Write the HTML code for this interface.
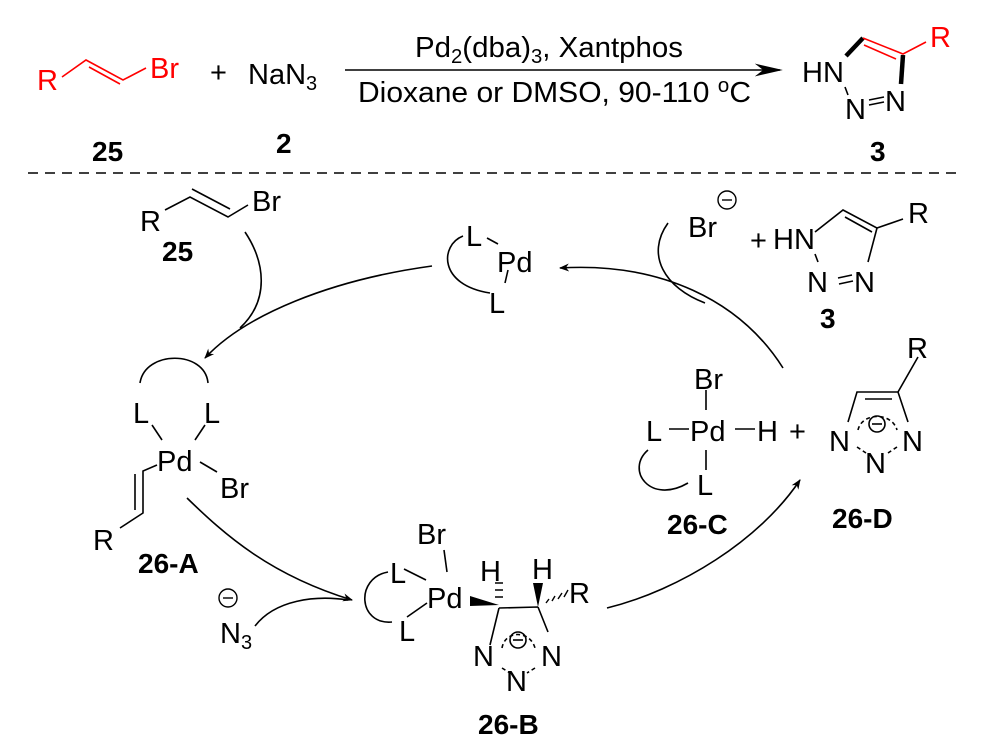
<!DOCTYPE html>
<html><head><style>
html,body{margin:0;padding:0;background:#fff}
svg{display:block}
text{font-family:"Liberation Sans",Arial,sans-serif;font-size:29px;fill:#000}
.b{font-weight:bold;font-size:28px}
.r{fill:#f00}
</style></head><body>
<svg width="991" height="745" viewBox="0 0 991 745" xmlns="http://www.w3.org/2000/svg">
<defs>
<marker id="ah" viewBox="0 0 10 10" refX="9" refY="5" markerWidth="10" markerHeight="10" orient="auto" markerUnits="userSpaceOnUse"><path d="M0,1 L10,5 L0,9 L3,5z" fill="#000"/></marker>
<marker id="ah2" viewBox="0 0 10 10" refX="9" refY="5" markerWidth="28" markerHeight="16" orient="auto" markerUnits="userSpaceOnUse" preserveAspectRatio="none"><path d="M0,1 L10,5 L0,9 L3,5z" fill="#000"/></marker>
</defs>
<g stroke="#000" stroke-width="1.6" fill="none">
<g stroke="#f00">
<path d="M62,77 L86,60 L123,80 L146,68"/>
<path d="M89,67 L120,84"/>
</g>
<path d="M345,70 L780,70" marker-end="url(#ah2)"/>
<path d="M846,56 L863,38" stroke-width="4.5"/>
<path d="M903,55 L901,84" stroke-width="4.5"/>
<path d="M863,38 L903,54 L926,42" stroke="#f00"/>
<path d="M864,45 L896,59" stroke="#f00"/>
<path d="M845,87 L848,95"/>
<path d="M869,100 L884,97 M869,105 L884,102"/>
<path d="M28,173 L962,173" stroke-dasharray="10,7"/>
<path d="M463,236 C440,245 438,285 490,293"/>
<path d="M487,238 L498,244 M508,270 L505,283"/>
<path d="M783,368 C740,300 660,262 560,268" marker-end="url(#ah)"/>
<path d="M668,223 C645,255 665,288 705,303"/>
<path d="M815,232 L843,210 L877,228 L868,262 M877,228 L903,219"/>
<path d="M845,217 L872,232"/>
<path d="M815,254 L818,262"/>
<path d="M838,278 L852,275 M839,284 L853,281"/>
<path d="M165,210 L190,197 L228,217 L248,205"/>
<path d="M192,189 L230,209"/>
<path d="M245,232 C265,262 270,300 240,328"/>
<path d="M432,266 C330,280 245,315 205,358" marker-end="url(#ah)"/>
<path d="M140,383 C145,350 205,350 208,383"/>
<path d="M152,425 L162,440 M205,425 L195,440 M200,462 L217,472"/>
<path d="M157,465 L143,471 L143,513 L120,528 M135,474 L135,510"/>
<path d="M187,498 C225,535 270,575 352,600" marker-end="url(#ah)"/>
<path d="M255,626 C275,600 315,595 348,600"/>
<path d="M444,550 L447,572"/>
<path d="M404,569 L426,580 M427,603 L407,617"/>
<path d="M388,572 C355,578 358,625 392,622"/>
<polygon points="470,596 499,605 470,606" fill="#000" stroke="none"/>
<path d="M499,608 L538,607 M499,608 L490,645 M538,607 L548,632"/>
<path d="M495,583 L503,583 M495,590 L503,590 M495,597 L503,597" stroke-width="1.4"/>
<polygon points="538,607 533,583 543,583" fill="#000" stroke="none"/>
<path d="M546,603 L549,599 M552,601 L555,596 M558,599 L562,593 M564,597 L568,590" stroke-width="1.4"/>
<path d="M502,648 C505,630 530,630 535,648 M502,668 L510,673 M535,668 L527,673" stroke-dasharray="4,3"/>
<circle cx="518" cy="640" r="8"/>
<path d="M513,640 L523,640"/>
<path d="M607,608 C680,590 760,540 800,480" marker-end="url(#ah)"/>
<path d="M706,390 L706,410 M689,429 L669,429 M755,429 L735,429 M706,450 L706,470"/>
<path d="M648,450 C625,470 650,505 688,483"/>
<path d="M848,422 L857,392 L898,392 L908,422 M898,392 L918,357"/>
<path d="M865,399 L892,399"/>
<path d="M858,430 C862,412 892,412 897,430 M857,447 L866,453 M897,447 L888,453" stroke-dasharray="4,3"/>
<circle cx="877" cy="424" r="8"/>
<path d="M872,424 L882,424"/>
</g>
<text x="37" y="90" class="r">R</text>
<text x="150" y="78" class="r">Br</text>
<text x="210" y="82">+</text>
<text x="248" y="84">NaN<tspan font-size="20" dy="6">3</tspan></text>
<text x="415" y="57" textLength="268" lengthAdjust="spacingAndGlyphs">Pd<tspan font-size="20" dy="6">2</tspan><tspan dy="-6">(dba)</tspan><tspan font-size="20" dy="6">3</tspan><tspan dy="-6">, Xantphos</tspan></text>
<text x="358" y="102" textLength="393" lengthAdjust="spacingAndGlyphs">Dioxane or DMSO, 90-110 <tspan font-size="20" dy="-10">o</tspan><tspan dy="10">C</tspan></text>
<text x="92" y="161" class="b">25</text>
<text x="276" y="153" class="b">2</text>
<text x="870" y="161" class="b">3</text>
<text x="802" y="82">HN</text>
<text x="845" y="119">N</text>
<text x="885" y="111">N</text>
<text x="930" y="47" class="r">R</text>
<text x="140" y="231">R</text>
<text x="252" y="211">Br</text>
<text x="162" y="261" class="b">25</text>
<text x="466" y="246">L</text>
<text x="497" y="272">Pd</text>
<text x="489" y="313">L</text>
<text x="688" y="237">Br</text>
<circle cx="727" cy="200" r="9" fill="none" stroke="#000" stroke-width="1.4"/>
<path d="M722,200 L732,200" stroke="#000" stroke-width="1.4"/>
<text x="750" y="250">+</text>
<text x="773" y="249">HN</text>
<text x="807" y="292">N</text>
<text x="854" y="292">N</text>
<text x="908" y="223">R</text>
<text x="820" y="328" class="b">3</text>
<text x="133" y="423">L</text>
<text x="204" y="423">L</text>
<text x="157" y="471">Pd</text>
<text x="220" y="498">Br</text>
<text x="93" y="550">R</text>
<text x="138" y="573" class="b">26-A</text>
<circle cx="228" cy="598" r="9" fill="none" stroke="#000" stroke-width="1.4"/>
<path d="M223,598 L233,598" stroke="#000" stroke-width="1.4"/>
<text x="220" y="643">N<tspan font-size="20" dy="6">3</tspan></text>
<text x="417" y="544">Br</text>
<text x="390" y="583">L</text>
<text x="427" y="608">Pd</text>
<text x="399" y="641">L</text>
<text x="480" y="581">H</text>
<text x="532" y="579">H</text>
<text x="569" y="603">R</text>
<text x="473" y="666">N</text>
<text x="541" y="666">N</text>
<text x="506" y="691">N</text>
<text x="478" y="734" class="b">26-B</text>
<text x="694" y="389">Br</text>
<text x="646" y="441">L</text>
<text x="690" y="441">Pd</text>
<text x="757" y="441">H</text>
<text x="697" y="495">L</text>
<text x="667" y="534" class="b">26-C</text>
<text x="789" y="441">+</text>
<text x="829" y="451">N</text>
<text x="902" y="451">N</text>
<text x="865" y="473">N</text>
<text x="907" y="358">R</text>
<text x="832" y="528" class="b">26-D</text>
</svg>
</body></html>
